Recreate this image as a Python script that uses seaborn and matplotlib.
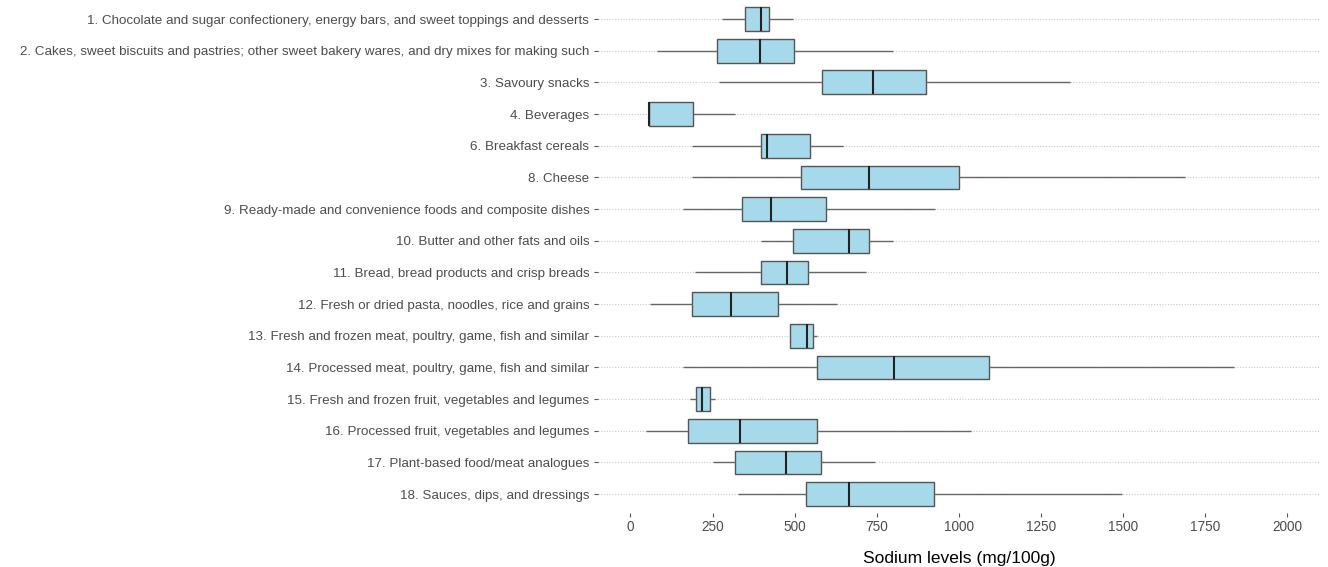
import numpy as np
import pandas as pd
import matplotlib
matplotlib.use("Agg")
import matplotlib.pyplot as plt
import seaborn as sns

categories = [
    "1. Chocolate and sugar confectionery, energy bars, and sweet toppings and desserts",
    "2. Cakes, sweet biscuits and pastries; other sweet bakery wares, and dry mixes for making such",
    "3. Savoury snacks",
    "4. Beverages",
    "6. Breakfast cereals",
    "8. Cheese",
    "9. Ready-made and convenience foods and composite dishes",
    "10. Butter and other fats and oils",
    "11. Bread, bread products and crisp breads",
    "12. Fresh or dried pasta, noodles, rice and grains",
    "13. Fresh and frozen meat, poultry, game, fish and similar",
    "14. Processed meat, poultry, game, fish and similar",
    "15. Fresh and frozen fruit, vegetables and legumes",
    "16. Processed fruit, vegetables and legumes",
    "17. Plant-based food/meat analogues",
    "18. Sauces, dips, and dressings",
]

# Five-number summaries (mg/100g) per category
minimum = [280, 81, 271, 55, 188, 188, 159, 399, 198, 59, 487, 159, 180, 48, 251, 329]
lower_q = [348, 265, 584, 57, 399, 518, 339, 496, 399, 188, 487, 567, 200, 174, 319, 535]
median = [398, 394, 738, 58, 415, 728, 428, 667, 476, 307, 538, 802, 218, 333, 474, 667]
upper_q = [422, 499, 899, 190, 548, 1000, 596, 727, 540, 448, 555, 1091, 241, 567, 579, 923]
maximum = [496, 799, 1338, 317, 647, 1688, 928, 799, 717, 629, 567, 1837, 258, 1037, 746, 1497]

x_ticks = [0, 250, 500, 750, 1000, 1250, 1500, 1750, 2000]

rows = []
for i, cat in enumerate(categories):
    for v in (minimum[i], lower_q[i], median[i], upper_q[i], maximum[i]):
        rows.append({"category": cat, "sodium": v})
df = pd.DataFrame(rows)

sns.set_theme(style="white")
plt.rcParams["font.family"] = ["Liberation Sans", "DejaVu Sans"]

fig = plt.figure(figsize=(13.28, 5.67), dpi=100)
ax = fig.add_axes([0.450, 0.095, 0.544, 0.905])

for i in range(len(categories)):
    ax.axhline(i, color="#c8c8c8", linestyle=(0, (1, 1.5)), linewidth=0.8, zorder=0)

sns.boxplot(
    data=df, x="sodium", y="category", order=categories, orient="h",
    whis=(0, 100), width=0.75, color="#a6daea", saturation=1,
    linecolor="#555555", linewidth=1.0, showfliers=False, showcaps=False,
    medianprops={"color": "#222222", "linewidth": 1.5},
    whiskerprops={"color": "#666666", "linewidth": 1.0},
    ax=ax,
)

ax.set_xlim(-100, 2100)
ax.set_ylim(len(categories) - 0.4, -0.6)
ax.set_xticks(x_ticks)
ax.set_xticklabels([str(t) for t in x_ticks])
ax.set_xlabel("Sodium levels (mg/100g)", fontsize=12.5, color="black", labelpad=12)
ax.set_ylabel("")
for s in ax.spines.values():
    s.set_visible(False)
ax.tick_params(axis="y", length=3, width=0.8, color="#555555",
               labelsize=9.6, labelcolor="#4d4d4d", left=True, pad=3)
ax.tick_params(axis="x", length=3, width=0.8, color="#555555",
               labelsize=9.8, labelcolor="#4d4d4d", bottom=True, pad=2)
ax.grid(False)

fig.savefig("out.png", dpi=100)
